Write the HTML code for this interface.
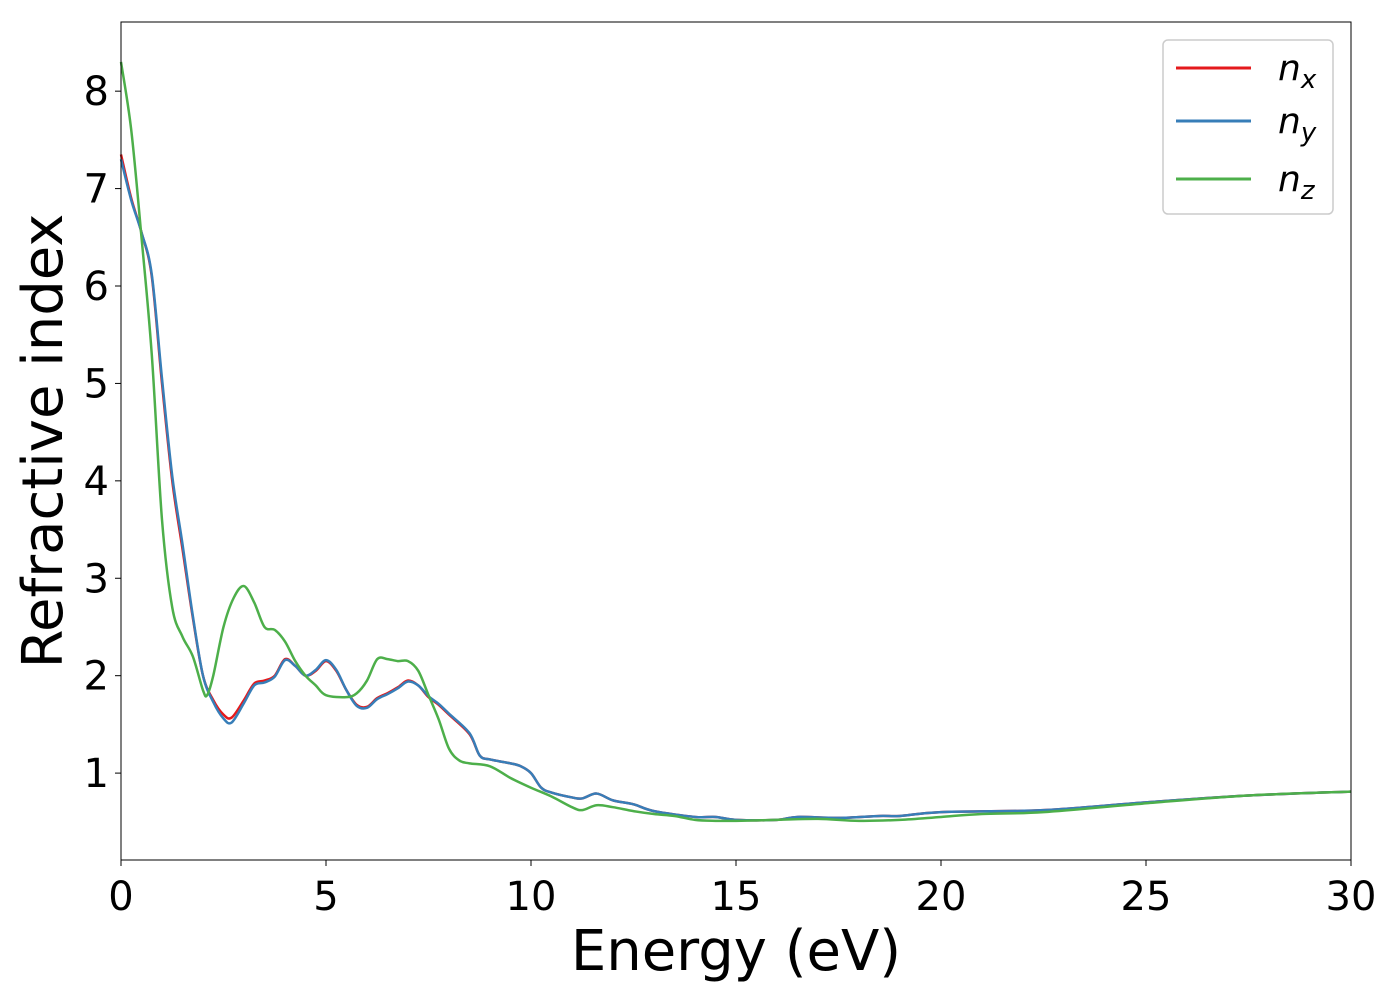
<!DOCTYPE html>
<html><head><meta charset="utf-8"><style>
body{margin:0;background:#fff;}
svg text{font-family:"DejaVu Sans","Liberation Sans",sans-serif;fill:#000;}
</style></head><body>
<svg id="chart" width="1400" height="1000" xmlns="http://www.w3.org/2000/svg">
<g id="plot"></g>
</svg>
<script>
const xTicks=[0,5,10,15,20,25,30];
const yTicks=[1,2,3,4,5,6,7,8];
const eX=[0,0.25,0.5,0.75,1.0,1.25,1.5,1.75,2.0,2.25,2.5,2.7,3.0,3.25,3.5,3.75,4.0,4.25,4.5,4.75,5.0,5.25,5.5,5.75,6.0,6.25,6.5,6.75,7.0,7.25,7.5,7.75,8.0,8.5,8.75,9.0,9.5,9.75,10,10.25,10.5,11,11.25,11.6,12,12.5,13,14,14.5,15,16,16.5,17.5,18.5,19,20,22.5,25,27.5,30];
const nx=[7.35,6.9,6.55,6.1,5.0,4.0,3.3,2.6,2.0,1.75,1.6,1.57,1.75,1.92,1.95,2.0,2.17,2.1,2.0,2.05,2.15,2.05,1.85,1.7,1.68,1.77,1.82,1.88,1.95,1.9,1.78,1.7,1.6,1.4,1.18,1.14,1.1,1.07,1.0,0.85,0.8,0.75,0.74,0.79,0.72,0.68,0.61,0.55,0.55,0.52,0.52,0.55,0.54,0.56,0.56,0.6,0.62,0.70,0.77,0.81];
const ny=[7.3,6.88,6.55,6.12,5.05,4.05,3.35,2.62,2.0,1.73,1.56,1.52,1.72,1.9,1.93,1.99,2.16,2.1,2.0,2.06,2.16,2.06,1.85,1.69,1.67,1.76,1.81,1.87,1.94,1.9,1.79,1.71,1.61,1.41,1.18,1.14,1.1,1.07,1.0,0.85,0.8,0.75,0.74,0.79,0.72,0.68,0.61,0.55,0.55,0.52,0.52,0.55,0.54,0.56,0.56,0.6,0.62,0.70,0.77,0.81];
const eZ=[0,0.25,0.5,0.75,1.0,1.25,1.5,1.75,2.0,2.1,2.25,2.5,2.75,3.0,3.25,3.5,3.75,4.0,4.25,4.5,4.75,5.0,5.5,5.75,6.0,6.25,6.5,6.75,7.0,7.25,7.5,7.75,8.0,8.25,8.5,9.0,9.5,10,10.5,11,11.25,11.6,12,12.5,13,13.5,14,14.5,15,16,17,18,19,20,21,22.5,25,27.5,30];
const nz=[8.3,7.6,6.5,5.3,3.6,2.7,2.4,2.2,1.85,1.8,2.0,2.5,2.8,2.92,2.75,2.5,2.47,2.35,2.15,2.0,1.9,1.8,1.78,1.82,1.95,2.17,2.17,2.15,2.15,2.05,1.8,1.55,1.25,1.13,1.1,1.07,0.95,0.85,0.76,0.65,0.62,0.67,0.65,0.61,0.58,0.56,0.52,0.51,0.51,0.52,0.53,0.51,0.52,0.55,0.58,0.6,0.69,0.77,0.81];
const L=121,R=1351,T=22,B=860,xmin=0,xmax=30,ymin=0.108,ymax=8.71;
const sx=v=>L+(v-xmin)/(xmax-xmin)*(R-L);
const sy=v=>B-(v-ymin)/(ymax-ymin)*(B-T);
const NS="http://www.w3.org/2000/svg";
const g=document.getElementById('plot');
function mk(t,a){const e=document.createElementNS(NS,t);for(const k in a)e.setAttribute(k,a[k]);g.appendChild(e);return e;}
function path(xs,ys){const p=xs.map((x,i)=>[sx(x),sy(ys[i])]);let d='M'+p[0][0]+','+p[0][1];
for(let i=0;i<p.length-1;i++){const p0=p[Math.max(0,i-1)],p1=p[i],p2=p[i+1],p3=p[Math.min(p.length-1,i+2)];
const c1=[p1[0]+(p2[0]-p0[0])/6,p1[1]+(p2[1]-p0[1])/6],c2=[p2[0]-(p3[0]-p1[0])/6,p2[1]-(p3[1]-p1[1])/6];
d+=' C'+c1+' '+c2+' '+p2;}return d;}
const series=[['nx-line',eX,nx,'#e41a1c'],['ny-line',eX,ny,'#377eb8'],['nz-line',eZ,nz,'#4daf4a']];
series.forEach(s=>{const e=mk('path',{d:path(s[1],s[2]),fill:'none',stroke:s[3],'stroke-width':2.5});

});
const fr=mk('rect',{x:L,y:T,width:R-L,height:B-T,fill:'none',stroke:'#000','stroke-width':1});


xTicks.forEach(v=>{mk('line',{x1:sx(v),x2:sx(v),y1:B,y2:B+6,stroke:'#000'});
const t=mk('text',{x:sx(v),y:B+50,'text-anchor':'middle','font-size':40});t.textContent=v;

});
yTicks.forEach(v=>{mk('line',{x1:L-6,x2:L,y1:sy(v),y2:sy(v),stroke:'#000'});
const t=mk('text',{x:L-12,y:sy(v)+14,'text-anchor':'end','font-size':40});t.textContent=v;

});
const xt=mk('text',{x:(L+R)/2,y:970,'text-anchor':'middle','font-size':56});xt.textContent='Energy (eV)';


const yt=mk('text',{x:0,y:0,'text-anchor':'middle','font-size':56,transform:'translate(62,441) rotate(-90)'});yt.textContent='Refractive index';


const lb=mk('rect',{x:1163,y:40,width:170,height:174,rx:5,fill:'#fff',stroke:'#ccc','stroke-width':1.5});


[['x','#e41a1c',68],['y','#377eb8',121],['z','#4daf4a',179]].forEach(l=>{
mk('line',{x1:1176,x2:1251,y1:l[2],y2:l[2],stroke:l[1],'stroke-width':3});
const t=mk('text',{x:1278,y:l[2]+12,'font-size':36,'font-style':'italic'});
t.innerHTML='n<tspan font-size="26" dy="8">'+l[0]+'</tspan>';

});
</script>
</body></html>
